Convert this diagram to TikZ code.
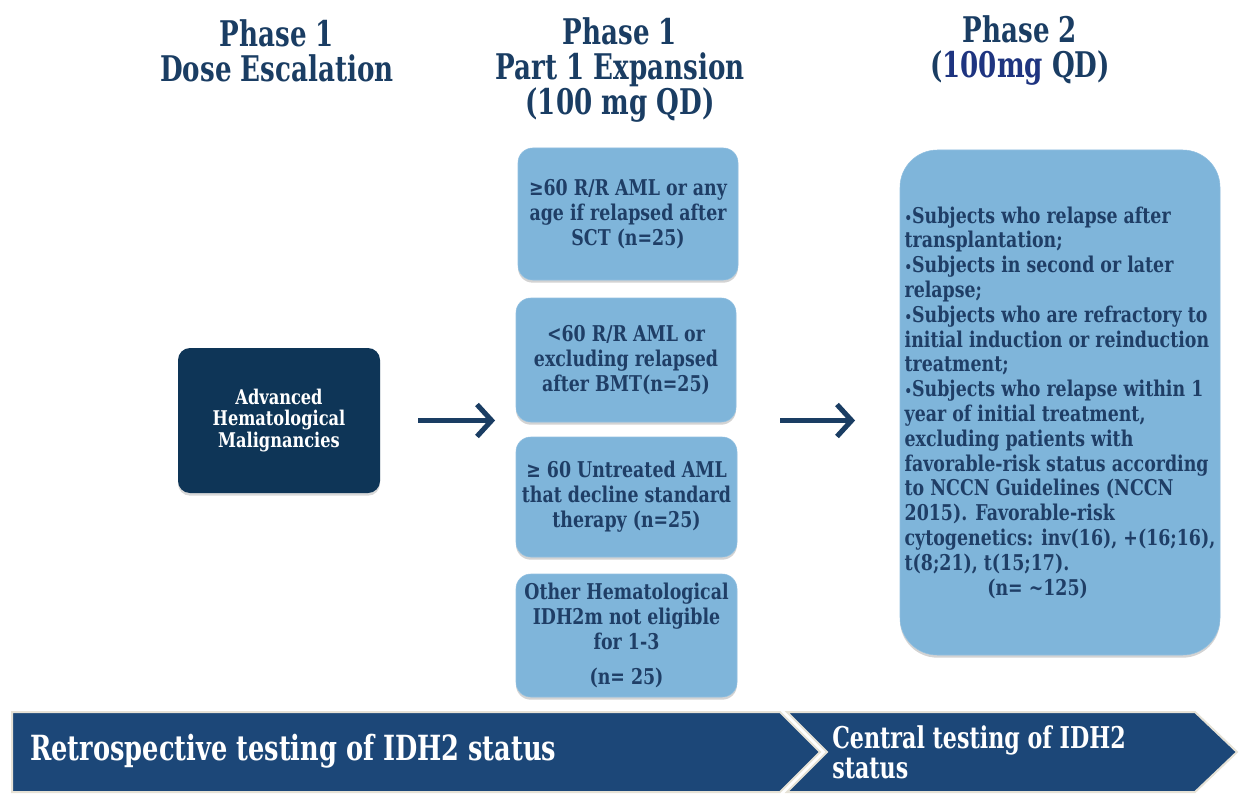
\documentclass[tikz,border=0pt]{standalone}
\usepackage{fontspec}
\setmainfont{DejaVu Serif}[FakeStretch=0.8]
\newfontfamily\condfont{DejaVu Serif}[FakeStretch=0.74]
\usetikzlibrary{arrows.meta,shadows}
\definecolor{navy}{HTML}{1A3D63}
\definecolor{txtnavy}{HTML}{1F3E66}
\definecolor{midblue}{HTML}{1E3480}
\definecolor{lightbox}{HTML}{7FB5DA}
\definecolor{darkbox}{HTML}{0E3557}
\definecolor{barblue}{HTML}{1C4778}
\definecolor{barline}{HTML}{E6E2D6}
\tikzset{
  title/.style={text=navy, align=center, inner sep=0pt, font=\condfont\bfseries\fontsize{26.5}{26.25}\selectfont},
  lbox/.style={fill=lightbox, draw=lightbox!85!white, rounded corners=11pt, text=txtnavy, align=center,
     inner sep=0pt, font=\bfseries\fontsize{16.3}{18.75}\selectfont,
     drop shadow={opacity=0.35, shadow xshift=0pt, shadow yshift=-2pt}},
  dbox/.style={fill=darkbox, rounded corners=9pt, text=white, align=center, inner sep=0pt,
     font=\bfseries\fontsize{15.2}{16.1}\selectfont,
     drop shadow={opacity=0.3, shadow xshift=0pt, shadow yshift=-2pt}},
  arr/.style={draw=navy, line width=3.8pt, -{Straight Barb[length=11pt,width=24pt,line width=3.8pt]}},
  barshape/.style={fill=barblue, draw=barline, line width=1.5pt},
  bartext/.style={text=white, align=left, inner sep=0pt, anchor=west, font=\condfont\bfseries\fontsize{26}{22.5}\selectfont},
}
\begin{document}
\begin{tikzpicture}[x=0.75pt,y=-0.75pt]
\useasboundingbox (0,0) rectangle (1241,795);
% titles
\node[title] (t1) at (277,51) {Phase 1\\Dose Escalation};
\node[title] (t2) at (620,70) {Phase 1\\Part 1 Expansion\\(100 mg QD)};
\node[title] (t3) at (1020,51) {Phase 2\\({\color{midblue}100mg} QD)};
% dark box
\node[dbox, minimum width=151.5pt, minimum height=108.75pt] (adv) at (279,420.5)
  {Advanced\\Hematological\\Malignancies};
% light boxes
\node[lbox, minimum width=165pt, minimum height=99pt] (b1) at (628,214)
  {≥60 R/R AML or any\\age if relapsed after\\SCT (n=25)};
\node[lbox, minimum width=165pt, minimum height=93pt] (b2) at (626,360)
  {<60 R/R AML or\\excluding relapsed\\after BMT(n=25)};
\node[lbox, minimum width=165.75pt, minimum height=90pt] (b3) at (626.5,497)
  {≥ 60 Untreated AML\\that decline standard\\therapy (n=25)};
\node[lbox, minimum width=165.75pt, minimum height=92.25pt] (b4) at (626.5,635.5)
  {Other Hematological\\IDH2m not eligible\\for 1-3\\[8pt](n= 25)};
% right box
\node[lbox, rounded corners=28pt, minimum width=240pt, minimum height=378.75pt,
      font=\bfseries\fontsize{16.3}{18.6}\selectfont, align=left] (rb) at (1060,402.5)
  {{\fontsize{11}{11}\selectfont•}Subjects who relapse after\\
   transplantation;\\
   {\fontsize{11}{11}\selectfont•}Subjects in second or later\\
   relapse;\\
   {\fontsize{11}{11}\selectfont•}Subjects who are refractory to\\
   initial induction or reinduction\\
   treatment;\\
   {\fontsize{11}{11}\selectfont•}Subjects who relapse within 1\\
   year of initial treatment,\\
   excluding patients with\\
   favorable-risk status according\\
   to NCCN Guidelines (NCCN\\
   2015). Favorable-risk\\
   cytogenetics: inv(16), +(16;16),\\
   t(8;21), t(15;17).\\
   \hspace*{62pt}(n= \textasciitilde125)};
% arrows
\draw[arr, shorten <=28.5pt, shorten >=15.5pt] (adv.east) -- (adv.east -| b2.west);
\draw[arr, shorten <=33pt, shorten >=33.5pt] (b2.east |- adv.east) -- (rb.west |- adv.east);
% bottom bar
\draw[barshape] (12,712) -- (780,712) -- (820,752) -- (780,792) -- (12,792) -- cycle;
\draw[barshape] (787,712) -- (1195,712) -- (1237,752) -- (1195,792) -- (787,792) -- (827,752) -- cycle;
\node[bartext] (r1) at (30,751) {Retrospective testing of IDH2 status};
\node[bartext, font=\condfont\bfseries\fontsize{22.5}{22.5}\selectfont] (r2) at (832,752) {Central testing of IDH2\\status};
\end{tikzpicture}
\end{document}
